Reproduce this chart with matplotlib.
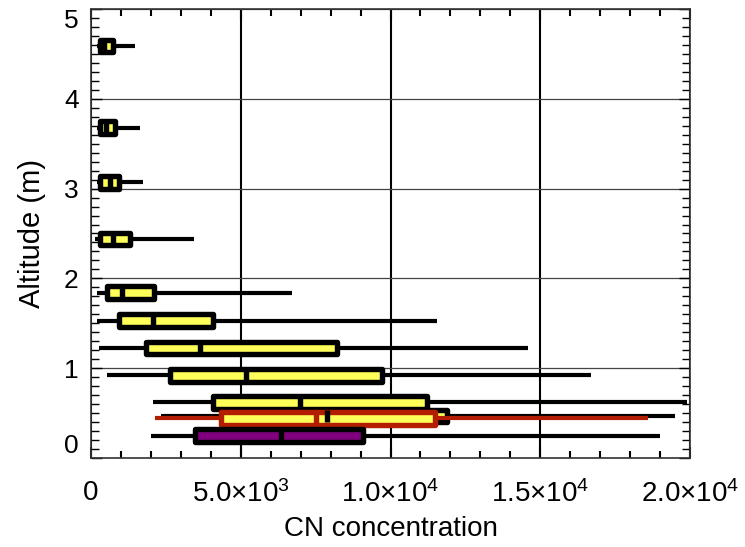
import matplotlib
matplotlib.use("Agg")
import matplotlib.pyplot as plt
from matplotlib.ticker import MultipleLocator

plt.rcParams['font.family'] = ['Liberation Sans', 'DejaVu Sans']
plt.rcParams['mathtext.fontset'] = 'custom'
plt.rcParams['mathtext.rm'] = 'Liberation Sans'
plt.rcParams['mathtext.it'] = 'Liberation Sans:italic'
plt.rcParams['mathtext.default'] = 'regular'

# yellow boxes (black outline): altitude, q1, median, q3, low, high
alt_y = [0.62, 0.92, 1.225, 1.53, 1.84, 2.44, 3.07, 3.68, 4.59]
q1_y = [4090, 2650, 1850, 920, 550, 317, 317, 284, 284]
med_y = [6970, 5165, 3630, 2060, 1035, 730, 618, 500, 450]
q3_y = [11235, 9700, 8230, 4060, 2090, 1300, 950, 785, 718]
lo_y = [2080, 525, 280, 210, 190, 130, 200, 200, 200]
hi_y = [19900, 16690, 14590, 11550, 6710, 3440, 1725, 1640, 1470]

# black box hidden under the red one
alt_b = 0.47
stat_b = [4400, 7880, 11870, 2340, 19500]
# red box
alt_r = 0.44
stat_r = [4340, 7510, 11490, 2140, 18590]
# purple box
alt_p = 0.25
stat_p = [3470, 6345, 9080, 2000, 19000]

xticks = [0, 5000, 10000, 15000, 20000]
xlabels = ['0', '5.0×10$^{3}$', '1.0×10$^{4}$', '1.5×10$^{4}$', '2.0×10$^{4}$']
yticks = [0, 1, 2, 3, 4, 5]

YELLOW = '#ffff5a'
RED = '#b41e00'
PURPLE = '#800080'


def st(q1, med, q3, lo, hi):
    return dict(q1=q1, med=med, q3=q3, whislo=lo, whishi=hi, fliers=[])


def draw(ax, stats, pos, edge, face, z, medz=None):
    ax.bxp(stats, positions=pos, widths=0.14, orientation='horizontal',
           patch_artist=True, showcaps=False, showfliers=False,
           manage_ticks=False, zorder=z,
           boxprops=dict(facecolor=face, edgecolor=edge, linewidth=3.9,
                         joinstyle='round'),
           medianprops=dict(color=edge, linewidth=3.9, solid_capstyle='butt',
                            zorder=medz if medz else z + 0.1),
           whiskerprops=dict(color=edge, linewidth=3.0, solid_capstyle='butt'))


fig = plt.figure(figsize=(7.45, 5.47), dpi=100)
ax = fig.add_axes([0.12215, 0.16271, 0.80403, 0.82084])

stats_y = [st(*v) for v in zip(q1_y, med_y, q3_y, lo_y, hi_y)]
draw(ax, stats_y, alt_y, 'k', YELLOW, 2)
draw(ax, [st(*stat_b)], [alt_b], 'k', YELLOW, 2.5, medz=5)
draw(ax, [st(*stat_r)], [alt_r], RED, YELLOW, 3)
draw(ax, [st(*stat_p)], [alt_p], 'k', PURPLE, 3.5)

ax.set_xlim(0, 20000)
ax.set_ylim(0, 5)
ax.set_xticks(xticks, xlabels)
ax.set_yticks(yticks, [str(t) for t in yticks])
for lbl in ax.get_yticklabels():
    if lbl.get_text() == '0':
        lbl.set_va('bottom')
    elif lbl.get_text() == '5':
        lbl.set_va('top')
ax.xaxis.set_minor_locator(MultipleLocator(1000))
ax.yaxis.set_minor_locator(MultipleLocator(0.1))
ax.tick_params(which='both', direction='in', top=True, right=True,
               labelsize=19, color='k')
ax.tick_params(axis='x', which='major', length=8, width=1.5, pad=16,
               labelsize=20)
ax.tick_params(axis='y', which='major', length=8, width=1, pad=9)
ax.tick_params(axis='x', which='minor', length=5, width=1.5)
ax.tick_params(axis='y', which='minor', length=6, width=1)

ax.set_axisbelow(True)
ax.grid(True, axis='x', which='major', color='k', linewidth=1.5)
ax.grid(True, axis='y', which='major', color='#444444', linewidth=0.9)
for s in ax.spines.values():
    s.set_linewidth(1.2)
    s.set_color('#333333')

ax.set_xlabel('CN concentration', fontsize=20, labelpad=6)
ax.set_ylabel('Altitude (m)', fontsize=21, labelpad=13)

fig.savefig('out.png', dpi=100)
